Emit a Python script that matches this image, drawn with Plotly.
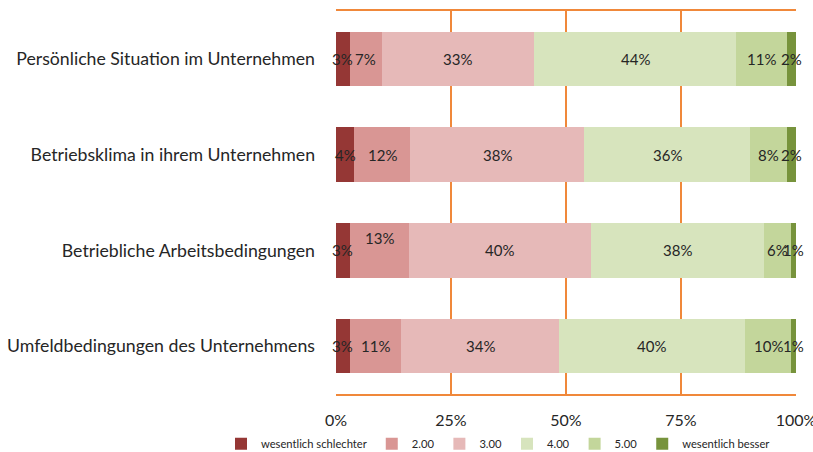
import plotly.graph_objects as go

categories = [
    "Persönliche Situation im Unternehmen",
    "Betriebsklima in ihrem Unternehmen",
    "Betriebliche Arbeitsbedingungen",
    "Umfeldbedingungen des Unternehmens",
]
series_names = ["wesentlich schlechter", "2.00", "3.00", "4.00", "5.00", "wesentlich besser"]
values = {
    "wesentlich schlechter": [3, 4, 3, 3],
    "2.00": [7, 12, 13, 11],
    "3.00": [33, 38, 40, 34],
    "4.00": [44, 36, 38, 40],
    "5.00": [11, 8, 6, 10],
    "wesentlich besser": [2, 2, 1, 1],
}
colors = ["#953735", "#D99694", "#E6B9B8", "#D7E4BD", "#C3D69B", "#77933C"]
tick_vals = [0, 25, 50, 75, 100]
tick_text = ["0%", "25%", "50%", "75%", "100%"]

FONT = "Lato"
ORANGE = "#F0883A"
TXT = "#262626"

fig = go.Figure()
for name, col in zip(series_names, colors):
    fig.add_trace(go.Bar(
        name=name,
        y=categories,
        x=values[name],
        orientation="h",
        marker=dict(color=col, line=dict(width=0)),
        hoverinfo="skip",
    ))

# data labels, centred in each (normalised) segment
totals = [sum(values[n][i] for n in series_names) for i in range(len(categories))]
for i, cat in enumerate(categories):
    cum = 0.0
    for name in series_names:
        v = values[name][i]
        w = v / totals[i] * 100
        ys = 12 if (i == 2 and name == "2.00") else 0
        fig.add_annotation(
            x=cum + w / 2, y=cat, text=f"{v}%", showarrow=False,
            xanchor="center", yanchor="middle", yshift=ys,
            font=dict(family=FONT, size=15, color=TXT),
        )
        cum += w

fig.update_layout(
    width=813, height=452,
    barmode="stack", barnorm="percent", bargap=0.43,
    margin=dict(l=336, r=17, t=11, b=58, autoexpand=False),
    paper_bgcolor="white", plot_bgcolor="white",
    font=dict(family=FONT, color=TXT),
    xaxis=dict(
        range=[0, 100], tickvals=tick_vals, ticktext=tick_text,
        showgrid=True, gridcolor=ORANGE, gridwidth=1.5,
        showline=True, linecolor=ORANGE, linewidth=1.5, mirror=True,
        zeroline=False, ticks="", ticklabelstandoff=11,
        ticklabeloverflow="allow",
        tickfont=dict(family=FONT, size=16, color=TXT),
    ),
    yaxis=dict(
        autorange="reversed", showgrid=False, ticks="",
        showline=False, ticklabelstandoff=20,
        tickfont=dict(family=FONT, size=17.7, color=TXT),
    ),
    legend=dict(
        orientation="h", x=-0.25, xanchor="left", y=-0.13, yanchor="middle",
        font=dict(family=FONT, size=11.2, color=TXT),
        itemwidth=30, traceorder="normal", bgcolor="rgba(0,0,0,0)",
    ),
    showlegend=True,
)

fig.write_html(
    "out.html",
    config={"displayModeBar": False},
    post_script="document.body.style.margin='0';document.body.style.overflow='hidden';",
)
